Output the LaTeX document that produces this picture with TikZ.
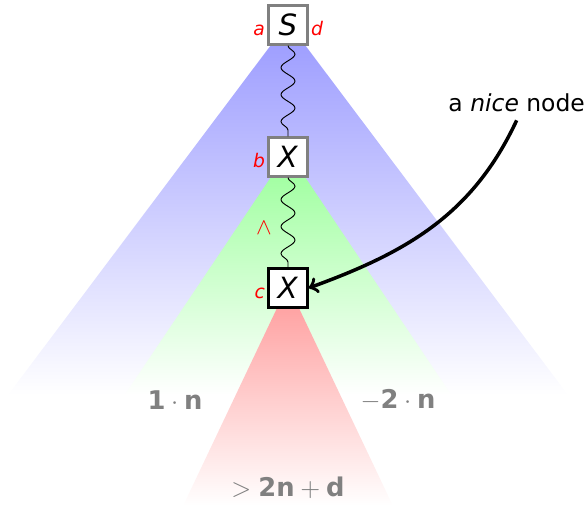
\documentclass[tikz,border=0pt]{standalone}
\usepackage{fontspec}
\setmainfont{DejaVu Sans}
\usepackage{tikz}
\usetikzlibrary{positioning,decorations.pathmorphing,backgrounds}

\begin{document}
\begin{tikzpicture}[
  stateBox/.style={draw, line width=1pt, fill=white, minimum size=0.585cm,
                   inner sep=0pt, font=\fontsize{12.5}{15}\selectfont},
  oldBox/.style={stateBox, draw=gray},
  newBox/.style={stateBox, draw=black},
  sideLabel/.style={text=red, font=\footnotesize, inner sep=0.8pt},
  costLabel/.style={text=gray, font=\fontsize{11}{13}\selectfont},
  wavy/.style={decorate, decoration={snake, segment length=0.405cm,
                                     amplitude=0.105cm}},
  >=to
]
  \useasboundingbox (-4.32,0.375) rectangle (4.5,-7.215);

  % === Nodes on the path ===
  \node[oldBox] (S) at (0,0) {\textit{S}};
  \node[oldBox] (X1) at (0,-1.98) {\textit{X}};
  \node[newBox] (X2) at (0,-3.945) {\textit{X}};

  % Side labels, on the baseline of the boxes
  \node[sideLabel, anchor=base east] (la) at (S.base west) {\textit{a}};
  \node[sideLabel, anchor=base west] (ld) at (S.base east) {\textit{d}};
  \node[sideLabel, anchor=base east] (lb) at (X1.base west) {\textit{b}};
  \node[sideLabel, anchor=base east] (lc) at (X2.base west) {\textit{c}};

  % === Cones below each node ===
  \begin{scope}[on background layer]
    \shade[top color=blue!40, bottom color=white]
      (0,0.04) -- (-4.2,-5.55) -- (4.2,-5.55) -- cycle;
    \shade[top color=green!40, bottom color=white]
      (0,-1.9) -- (-2.45,-5.55) -- (2.45,-5.55) -- cycle;
    \shade[top color=red!40, bottom color=white]
      (0,-3.9) -- (-1.575,-7.215) -- (1.575,-7.215) -- cycle;
  \end{scope}

  % === Wavy connections ===
  \draw[wavy] (S) -- (X1);
  \draw[wavy] (X1) -- node[left=0.12cm, pos=0.56, text=red] (wedge) {$\wedge$} (X2);

  % Costs at common baseline
  \node[costLabel] (cl) at (-1.695,-5.625) {$\textbf{1}\cdot\textbf{n}$};
  \node[costLabel] (cr) at (1.65,-5.625) {$-\textbf{2}\cdot\textbf{n}$};
  \node[costLabel] (cb) at (0,-6.945) {$>\textbf{2n}+\textbf{d}$};

  % === Annotation ===
  \node (nice) at (3.43,-1.17) {a \textit{nice} node};
  \draw[->, line width=1.5pt] (nice.south) to[out=-115, in=20] (X2.east);
\end{tikzpicture}
\end{document}
